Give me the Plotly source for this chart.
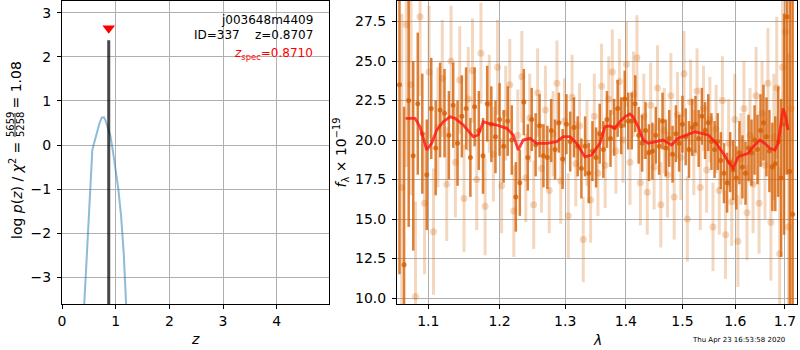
import plotly.graph_objects as go
import math

FONT = "DejaVu Sans"
W, H = 800, 350

# ---------------- left panel: log p(z) ----------------
z_grid = [0.40, 0.415, 0.45, 0.50, 0.54, 0.565, 0.60, 0.65, 0.70, 0.74, 0.78, 0.81,
          0.85, 0.90, 0.95, 1.00, 1.05, 1.10, 1.15, 1.19, 1.22]
log_pz = [-4.3, -3.6, -2.8, -1.65, -0.75, -0.11, 0.05, 0.28, 0.50, 0.62, 0.63, 0.56,
          0.42, 0.22, -0.15, -0.55, -1.0, -1.6, -2.45, -3.5, -4.3]
z_best = 0.8707
z_spec = 0.8710
best_line_logp = [-4.0, 2.38]
spec_marker_logp = 2.65
z_ticks = [0, 1, 2, 3, 4]
logp_ticks = [-3, -2, -1, 0, 1, 2, 3]
logp_ticktext = ["\u22123", "\u22122", "\u22121", "0", "1", "2", "3"]

# ---------------- right panel: spectrum ----------------
dark_wave = [1.062, 1.068, 1.074, 1.080, 1.086, 1.092, 1.098, 1.104, 1.110, 1.116,
             1.122, 1.128, 1.134, 1.140, 1.146, 1.152, 1.158, 1.164, 1.170, 1.176,
             1.182, 1.188, 1.194, 1.200, 1.206, 1.212, 1.218, 1.224, 1.230, 1.236,
             1.242, 1.248, 1.254, 1.260, 1.266, 1.272, 1.278, 1.284, 1.290, 1.296,
             1.302, 1.308, 1.314, 1.320, 1.326, 1.332, 1.338, 1.344, 1.350, 1.356,
             1.362, 1.368, 1.374, 1.380, 1.386, 1.392, 1.398, 1.404, 1.410, 1.416,
             1.422, 1.428, 1.434, 1.440, 1.446, 1.452, 1.458, 1.464, 1.470, 1.476,
             1.482, 1.488, 1.494, 1.500, 1.506, 1.512, 1.518, 1.524, 1.530, 1.536,
             1.542, 1.548, 1.554, 1.560, 1.566, 1.572, 1.578, 1.584, 1.590, 1.596,
             1.602, 1.608, 1.614, 1.620, 1.626, 1.632, 1.638, 1.644, 1.650, 1.656,
             1.662, 1.668, 1.674, 1.680, 1.686, 1.692, 1.698, 1.704, 1.710, 1.716]
dark_flux = [23.5, 12.1, 22.5, 19.0, 22.3, 20.4, 17.8, 22.0, 19.5, 21.9,
             21.7, 20.3, 22.2, 19.8, 21.5, 22.0, 18.9, 22.1, 20.6, 19.0,
             22.3, 21.0, 20.2, 21.3, 19.6, 21.2, 20.0, 16.4, 17.3, 22.4,
             18.9, 21.3, 19.7, 20.9, 19.0, 18.9, 20.6, 19.4, 21.1, 18.8,
             21.0, 19.9, 20.8, 19.6, 18.2, 19.6, 17.9, 19.3, 18.9, 20.4,
             19.4, 21.3, 20.1, 20.8, 22.0, 20.9, 22.6, 21.2, 21.2, 22.3,
             20.3, 19.8, 20.6, 19.2, 19.3, 20.3, 19.6, 21.2, 19.5, 20.1,
             19.1, 20.4, 19.8, 21.0, 20.2, 19.4, 20.8, 21.0, 20.1, 21.5,
             20.6, 21.1, 19.9, 19.4, 19.9, 18.7, 17.9, 17.3, 18.6, 18.1,
             17.6, 19.2, 18.3, 17.9, 19.5, 19.2, 20.0, 19.4, 20.6, 21.1,
             20.2, 19.3, 18.3, 18.5, 19.9, 17.6, 21.0, 27.8, 18.0, 15.3]
dark_err = [12.0, 10.0, 8.0, 6.0, 4.5, 3.8, 3.5, 3.2, 3.0, 3.0,
            2.8, 2.8, 2.7, 2.7, 2.6, 2.6, 2.5, 2.5, 2.5, 2.4,
            2.4, 2.4, 2.3, 2.3, 2.3, 2.2, 2.2, 2.2, 2.1, 2.1,
            2.1, 2.0, 2.0, 2.0, 2.0, 2.0, 2.0, 1.9, 1.9, 1.9,
            1.9, 1.9, 1.9, 1.9, 1.9, 1.9, 1.9, 1.9, 1.9, 1.9,
            1.8, 1.8, 1.8, 1.8, 1.8, 1.8, 1.8, 1.8, 1.8, 1.8,
            1.8, 1.8, 1.8, 1.8, 1.8, 1.8, 1.8, 1.8, 1.8, 1.8,
            1.8, 1.8, 1.8, 1.8, 1.8, 1.8, 1.8, 1.8, 1.8, 1.8,
            1.8, 1.8, 1.8, 1.8, 1.8, 1.8, 1.9, 1.9, 1.9, 1.9,
            2.0, 2.0, 2.0, 2.0, 2.1, 2.1, 2.2, 2.2, 2.3, 2.4,
            2.5, 2.6, 2.8, 3.0, 3.5, 5.0, 7.0, 10.0, 12.0, 14.0]

light_wave = [1.065, 1.071, 1.077, 1.083, 1.089, 1.095, 1.101, 1.107, 1.113, 1.119,
              1.125, 1.131, 1.137, 1.143, 1.149, 1.155, 1.161, 1.167, 1.173, 1.179,
              1.185, 1.191, 1.197, 1.203, 1.209, 1.215, 1.221, 1.227, 1.233, 1.239,
              1.245, 1.251, 1.257, 1.263, 1.269, 1.275, 1.281, 1.287, 1.293, 1.299,
              1.305, 1.311, 1.317, 1.323, 1.329, 1.335, 1.341, 1.347, 1.353, 1.359,
              1.365, 1.371, 1.377, 1.383, 1.389, 1.395, 1.401, 1.407, 1.413, 1.419,
              1.425, 1.431, 1.437, 1.443, 1.449, 1.455, 1.461, 1.467, 1.473, 1.479,
              1.485, 1.491, 1.497, 1.503, 1.509, 1.515, 1.521, 1.527, 1.533, 1.539,
              1.545, 1.551, 1.557, 1.563, 1.569, 1.575, 1.581, 1.587, 1.593, 1.599,
              1.605, 1.611, 1.617, 1.623, 1.629, 1.635, 1.641, 1.647, 1.653, 1.659,
              1.665, 1.671, 1.677, 1.683, 1.689, 1.695, 1.701, 1.707, 1.713]
light_flux = [17.0, 27.3, 23.5, 10.1, 27.8, 16.0, 24.3, 14.2, 20.8, 23.9,
              17.2, 25.0, 18.6, 23.8, 16.3, 22.6, 24.4, 17.5, 25.5, 15.8,
              22.3, 19.1, 24.6, 17.1, 21.7, 23.5, 15.5, 20.3, 24.0, 17.6,
              21.4, 15.9, 23.0, 18.2, 21.9, 16.8, 20.4, 23.6, 17.4, 21.2,
              15.2, 22.7, 18.5, 20.9, 13.7, 19.8, 16.2, 21.5, 17.9, 23.4,
              18.4, 22.6, 24.3, 19.3, 23.7, 20.0, 24.8, 18.6, 22.9, 25.2,
              17.3, 21.5, 16.7, 22.2, 18.3, 23.3, 15.9, 20.6, 17.8, 22.8,
              16.4, 21.6, 18.9, 24.2, 15.0, 22.4, 19.2, 23.1, 17.0, 22.0,
              18.1, 21.3, 14.5, 20.7, 16.8, 22.5, 14.0, 19.8, 16.1, 21.3,
              13.6, 18.8, 22.0, 15.4, 20.3, 17.2, 22.8, 16.0, 21.7, 18.4,
              23.6, 14.8, 20.2, 23.3, 12.8, 24.6, 26.85, 14.5, 22.0]
light_err = [11.0, 9.0, 7.0, 6.0, 5.0, 4.5, 4.2, 4.0, 3.8, 3.7,
             3.6, 3.5, 3.5, 3.4, 3.4, 3.3, 3.3, 3.2, 3.2, 3.1,
             3.1, 3.0, 3.0, 3.0, 3.0, 2.9, 2.9, 2.9, 2.9, 2.8,
             2.8, 2.8, 2.8, 2.8, 2.8, 2.7, 2.7, 2.7, 2.7, 2.7,
             2.7, 2.7, 2.7, 2.7, 2.7, 2.7, 2.7, 2.7, 2.7, 2.7,
             2.7, 2.7, 2.7, 2.7, 2.7, 2.7, 2.7, 2.7, 2.7, 2.7,
             2.7, 2.7, 2.7, 2.7, 2.7, 2.7, 2.7, 2.7, 2.7, 2.7,
             2.7, 2.7, 2.7, 2.7, 2.7, 2.7, 2.7, 2.7, 2.7, 2.7,
             2.7, 2.7, 2.8, 2.8, 2.8, 2.8, 2.8, 2.8, 2.8, 2.9,
             2.9, 2.9, 3.0, 3.0, 3.0, 3.1, 3.1, 3.2, 3.3, 3.4,
             3.5, 3.7, 4.0, 4.5, 5.5, 7.0, 9.0, 11.0, 13.0]

model_wave = [1.0700, 1.0823, 1.0889, 1.0979, 1.1046, 1.1113, 1.1203, 1.1295, 1.1364, 1.1480,
              1.1621, 1.1692, 1.1764, 1.1835, 1.1957, 1.2104, 1.2202, 1.2276, 1.2351, 1.2453,
              1.2555, 1.2709, 1.2865, 1.2969, 1.3076, 1.3183, 1.3317, 1.3426, 1.3563, 1.3646,
              1.3730, 1.3814, 1.3898, 1.3983, 1.4069, 1.4125, 1.4212, 1.4299, 1.4386, 1.4504,
              1.4652, 1.4803, 1.4922, 1.5076, 1.5229, 1.5354, 1.5479, 1.5606, 1.5765, 1.5861,
              1.5958, 1.6056, 1.6154, 1.6253, 1.6352, 1.6486, 1.6587, 1.6689, 1.6791, 1.6858,
              1.6928, 1.6961, 1.7017, 1.7065]
model_flux = [21.37, 21.37, 20.84, 19.37, 19.79, 20.63, 21.16, 21.47, 21.37, 20.95,
              20.21, 20.32, 21.16, 21.06, 20.95, 20.74, 20.32, 19.37, 20.00, 20.11,
              19.79, 19.79, 19.89, 20.21, 20.21, 19.79, 18.94, 19.05, 19.79, 20.84,
              20.89, 20.74, 21.16, 21.47, 21.65, 21.47, 20.84, 20.00, 19.79, 19.89,
              20.00, 19.68, 20.11, 20.32, 20.53, 20.42, 20.32, 19.89, 19.16, 18.63,
              18.21, 18.94, 19.05, 19.16, 19.58, 20.00, 19.79, 19.47, 19.37, 19.79,
              21.27, 22.00, 21.47, 20.63]

wave_ticks = [1.1, 1.2, 1.3, 1.4, 1.5, 1.6, 1.7]
wave_ticktext = ["1.1", "1.2", "1.3", "1.4", "1.5", "1.6", "1.7"]
flux_ticks = [10.0, 12.5, 15.0, 17.5, 20.0, 22.5, 25.0, 27.5]
flux_ticktext = ["10.0", "12.5", "15.0", "17.5", "20.0", "22.5", "25.0", "27.5"]

obj_name = "j003648m4409"
obj_id = 337
timestamp = "Thu Apr 23 16:53:58 2020"

ORANGE = "213,94,0"

fig = go.Figure()

# left panel traces
fig.add_trace(go.Scatter(x=z_grid, y=log_pz, mode="lines",
                         line=dict(color="rgba(31,119,180,0.5)", width=2),
                         xaxis="x", yaxis="y", hoverinfo="skip"))
fig.add_trace(go.Scatter(x=[z_best, z_best], y=best_line_logp, mode="lines",
                         line=dict(color="rgba(0,0,0,0.72)", width=3),
                         xaxis="x", yaxis="y", hoverinfo="skip"))
fig.add_trace(go.Scatter(x=[z_spec], y=[spec_marker_logp], mode="markers",
                         marker=dict(symbol="triangle-down", size=11, color="red",
                                     line=dict(width=0)),
                         xaxis="x", yaxis="y", hoverinfo="skip"))

# right panel traces
fig.add_trace(go.Scatter(x=light_wave, y=light_flux, mode="markers",
                         marker=dict(size=7, color=f"rgba({ORANGE},0.25)", line=dict(width=0)),
                         error_y=dict(type="data", array=light_err, visible=True,
                                      color=f"rgba({ORANGE},0.25)", thickness=3, width=0),
                         xaxis="x2", yaxis="y2", hoverinfo="skip"))
fig.add_trace(go.Scatter(x=dark_wave, y=dark_flux, mode="markers",
                         marker=dict(size=5, color=f"rgba({ORANGE},0.78)", line=dict(width=0)),
                         error_y=dict(type="data", array=dark_err, visible=True,
                                      color=f"rgba({ORANGE},0.78)", thickness=2.5, width=0),
                         xaxis="x2", yaxis="y2", hoverinfo="skip"))
fig.add_trace(go.Scatter(x=model_wave, y=model_flux, mode="lines",
                         line=dict(color="rgba(255,20,20,0.8)", width=2.8),
                         xaxis="x2", yaxis="y2", hoverinfo="skip"))

def px_x(p):
    return p / W

def px_y(p):
    return 1 - p / H

tickfont = dict(family=FONT, size=14, color="black")
common = dict(showgrid=True, gridcolor="#b0b0b0", gridwidth=1, showline=True,
              linecolor="black", linewidth=1, mirror=True, ticks="outside",
              ticklen=4, tickwidth=1, tickcolor="black", zeroline=False,
              tickfont=tickfont, tickmode="array", automargin=False)

y_dom = [px_y(304), px_y(1)]

fig.update_layout(
    width=W, height=H,
    margin=dict(l=0, r=0, t=0, b=0, pad=0, autoexpand=False),
    paper_bgcolor="white", plot_bgcolor="white",
    showlegend=False,
    xaxis=dict(domain=[px_x(62), px_x(329)], range=[0, 4.975], tickvals=z_ticks,
               anchor="y", **common),
    yaxis=dict(domain=y_dom, range=[-3.61, 3.27], tickvals=logp_ticks,
               ticktext=logp_ticktext, anchor="x", ticklabelstandoff=3, **common),
    xaxis2=dict(domain=[px_x(397), px_x(797)], type="log",
                range=[math.log10(1.0588), math.log10(1.7251)],
                tickvals=wave_ticks, ticktext=wave_ticktext, anchor="y2",
                layer="above traces", **common),
    yaxis2=dict(domain=y_dom, range=[9.62, 28.8], tickvals=flux_ticks,
                ticktext=flux_ticktext, anchor="x2", layer="above traces",
                ticklabelstandoff=3, **common),
)

ann = []
def add_text(text, x, y, size=14, color="black", xanchor="center", yanchor="middle", angle=0):
    ann.append(dict(text=text, x=px_x(x), y=px_y(y), xref="paper", yref="paper",
                    showarrow=False, xanchor=xanchor, yanchor=yanchor, textangle=angle,
                    font=dict(family=FONT, size=size, color=color)))

nb = "\u00a0"
add_text(obj_name, 315, 20, size=12, xanchor="right")
add_text(f"ID={obj_id}{nb*4}z={z_best:.4f}", 315, 35, size=12, xanchor="right")
add_text(f"<i>z</i><sub>spec</sub>={z_spec:.4f}", 315, 54, size=12, color="red", xanchor="right")

# axis labels
add_text("<i>z</i>", 195.5, 339)
add_text("<i>λ</i>", 597, 340)
add_text("<i>f</i><sub>λ</sub> × 10<sup>\u221219</sup>", 341, 152.5, angle=-90)

# left y label (with stacked fraction)
add_text("log <i>p</i>(<i>z</i>) / <i>χ</i><sup>2</sup> =", 15.5, 241, angle=-90, yanchor="bottom")
add_text("5659", 10, 125, size=10, angle=-90)
add_text("5258", 20, 125, size=10, angle=-90)
add_text("= 1.08", 15.5, 85, angle=-90)

add_text(timestamp, 787, 340, size=7, xanchor="right")

fig.update_layout(annotations=ann)
fig.add_shape(type="line", xref="paper", yref="paper",
              x0=px_x(15), x1=px_x(15), y0=px_y(113), y1=px_y(137),
              line=dict(color="black", width=0.8))

fig.write_html("out.html",
               config={"displayModeBar": False, "staticPlot": True},
               post_script="document.body.style.margin='0';document.body.style.overflow='hidden';")
